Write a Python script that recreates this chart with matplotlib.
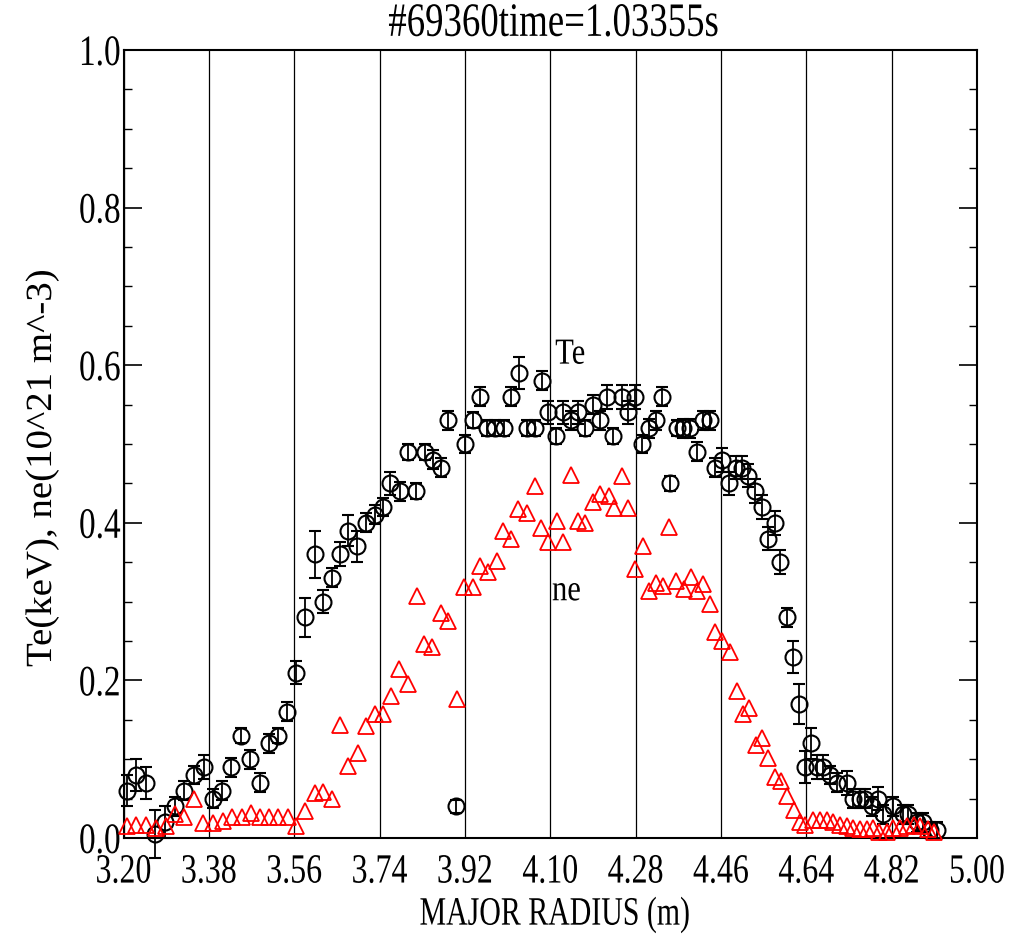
import matplotlib
matplotlib.use('Agg')
import matplotlib.pyplot as plt
from matplotlib.ticker import MultipleLocator
from matplotlib.patheffects import AbstractPathEffect
from matplotlib.transforms import Affine2D

plt.rcParams['font.family'] = ['Liberation Serif', 'DejaVu Serif']

# Te (keV) profile
te_r = [3.207, 3.226, 3.247, 3.266, 3.288, 3.309, 3.328, 3.349, 3.370, 3.389,
        3.408, 3.427, 3.448, 3.467, 3.488, 3.507, 3.526, 3.545, 3.564, 3.583,
        3.604, 3.621, 3.640, 3.657, 3.673, 3.692, 3.711, 3.730, 3.747, 3.762,
        3.783, 3.800, 3.817, 3.836, 3.853, 3.870, 3.884, 3.901, 3.920, 3.937,
        3.952, 3.967, 3.983, 4.002, 4.017, 4.034, 4.051, 4.068, 4.083, 4.096,
        4.112, 4.127, 4.144, 4.159, 4.173, 4.190, 4.205, 4.220, 4.233, 4.251,
        4.264, 4.279, 4.294, 4.309, 4.323, 4.336, 4.353, 4.368, 4.380, 4.395,
        4.410, 4.423, 4.437, 4.448, 4.462, 4.477, 4.492, 4.504, 4.517, 4.532,
        4.547, 4.560, 4.573, 4.584, 4.599, 4.612, 4.625, 4.637, 4.650, 4.663,
        4.675, 4.690, 4.705, 4.726, 4.738, 4.753, 4.763, 4.778, 4.791, 4.801,
        4.823, 4.844, 4.854, 4.873, 4.886, 4.901, 4.915]
te_val = [0.06, 0.08, 0.07, 0.005, 0.02, 0.04, 0.06, 0.08, 0.09, 0.05,
          0.06, 0.09, 0.13, 0.10, 0.07, 0.12, 0.13, 0.16, 0.21, 0.28,
          0.36, 0.30, 0.33, 0.36, 0.39, 0.37, 0.40, 0.41, 0.42, 0.45,
          0.44, 0.49, 0.44, 0.49, 0.48, 0.47, 0.53, 0.04, 0.50, 0.53,
          0.56, 0.52, 0.52, 0.52, 0.56, 0.59, 0.52, 0.52, 0.58, 0.54,
          0.51, 0.54, 0.53, 0.54, 0.52, 0.55, 0.53, 0.56, 0.51, 0.56,
          0.54, 0.56, 0.50, 0.52, 0.53, 0.56, 0.45, 0.52, 0.52, 0.52,
          0.49, 0.53, 0.53, 0.47, 0.48, 0.45, 0.47, 0.47, 0.46, 0.44,
          0.42, 0.38, 0.40, 0.35, 0.28, 0.23, 0.17, 0.09, 0.12, 0.09,
          0.09, 0.08, 0.07, 0.07, 0.05, 0.05, 0.05, 0.04, 0.05, 0.03,
          0.04, 0.03, 0.03, 0.02, 0.02, 0.01, 0.01]
te_err = [0.02, 0.02, 0.02, 0.03, 0.02, 0.012, 0.012, 0.012, 0.015, 0.012,
          0.012, 0.012, 0.01, 0.012, 0.012, 0.012, 0.01, 0.012, 0.015, 0.025,
          0.03, 0.015, 0.012, 0.015, 0.02, 0.02, 0.012, 0.012, 0.012, 0.015,
          0.012, 0.01, 0.01, 0.01, 0.012, 0.012, 0.012, 0.008, 0.012, 0.01,
          0.012, 0.01, 0.01, 0.01, 0.012, 0.02, 0.01, 0.01, 0.012, 0.015,
          0.01, 0.015, 0.012, 0.015, 0.01, 0.012, 0.012, 0.015, 0.01, 0.015,
          0.015, 0.015, 0.012, 0.012, 0.012, 0.012, 0.01, 0.01, 0.012, 0.012,
          0.012, 0.012, 0.012, 0.012, 0.015, 0.015, 0.015, 0.015, 0.015, 0.015,
          0.015, 0.015, 0.015, 0.015, 0.012, 0.02, 0.025, 0.02, 0.02, 0.015,
          0.015, 0.012, 0.012, 0.015, 0.012, 0.012, 0.012, 0.012, 0.015, 0.012,
          0.012, 0.012, 0.012, 0.012, 0.012, 0.01, 0.01]

# ne (10^21 m^-3) profile
ne_r = [3.207, 3.226, 3.247, 3.268, 3.290, 3.309, 3.328, 3.349, 3.368, 3.389,
        3.410, 3.429, 3.450, 3.469, 3.488, 3.507, 3.526, 3.547, 3.564, 3.583,
        3.604, 3.621, 3.640, 3.657, 3.673, 3.695, 3.711, 3.730, 3.747, 3.764,
        3.781, 3.800, 3.819, 3.834, 3.851, 3.870, 3.884, 3.903, 3.918, 3.937,
        3.952, 3.969, 3.988, 4.001, 4.017, 4.032, 4.051, 4.067, 4.081, 4.096,
        4.115, 4.127, 4.144, 4.159, 4.173, 4.190, 4.205, 4.223, 4.235, 4.251,
        4.264, 4.279, 4.296, 4.309, 4.322, 4.338, 4.351, 4.366, 4.381, 4.396,
        4.410, 4.423, 4.436, 4.448, 4.462, 4.480, 4.494, 4.507, 4.520, 4.534,
        4.547, 4.560, 4.573, 4.587, 4.600, 4.613, 4.627, 4.637, 4.654, 4.669,
        4.684, 4.696, 4.711, 4.726, 4.738, 4.753, 4.768, 4.781, 4.794, 4.810,
        4.823, 4.838, 4.853, 4.868, 4.880, 4.897, 4.909]
ne_val = [0.015, 0.017, 0.017, 0.013, 0.015, 0.030, 0.027, 0.050, 0.019, 0.019,
          0.021, 0.027, 0.027, 0.032, 0.027, 0.027, 0.027, 0.027, 0.015, 0.034,
          0.057, 0.059, 0.050, 0.144, 0.091, 0.108, 0.142, 0.157, 0.157, 0.180,
          0.214, 0.195, 0.307, 0.246, 0.243, 0.286, 0.275, 0.177, 0.318, 0.318,
          0.345, 0.337, 0.351, 0.389, 0.379, 0.417, 0.413, 0.447, 0.394, 0.375,
          0.402, 0.375, 0.461, 0.402, 0.400, 0.426, 0.436, 0.434, 0.419, 0.459,
          0.419, 0.341, 0.370, 0.313, 0.324, 0.320, 0.395, 0.326, 0.316, 0.331,
          0.313, 0.322, 0.297, 0.262, 0.250, 0.236, 0.186, 0.157, 0.165, 0.118,
          0.127, 0.102, 0.077, 0.072, 0.053, 0.035, 0.020, 0.017, 0.023, 0.023,
          0.023, 0.020, 0.017, 0.015, 0.013, 0.011, 0.011, 0.013, 0.008, 0.008,
          0.013, 0.013, 0.015, 0.017, 0.015, 0.011, 0.008]

x_ticks = [3.20, 3.38, 3.56, 3.74, 3.92, 4.10, 4.28, 4.46, 4.64, 4.82, 5.00]
y_ticks = [0.0, 0.2, 0.4, 0.6, 0.8, 1.0]


class Tall(AbstractPathEffect):
    # stretch glyphs along the text's own vertical about their centre (narrow Times look)
    def __init__(self, sy=1.3, vertical=False):
        super().__init__()
        self.sy = sy
        self.vertical = vertical

    def draw_path(self, renderer, gc, tpath, affine, rgbFace=None):
        v = affine.transform(tpath.vertices)
        if self.vertical:
            cx = (v[:, 0].min() + v[:, 0].max()) / 2
            st = Affine2D().translate(-cx, 0).scale(self.sy, 1).translate(cx, 0)
        else:
            cy = (v[:, 1].min() + v[:, 1].max()) / 2
            st = Affine2D().translate(0, -cy).scale(1, self.sy).translate(0, cy)
        renderer.draw_path(gc, tpath, affine + st, rgbFace)


tall = [Tall(1.3)]

fig = plt.figure(figsize=(10.25, 9.36), dpi=100)
ax = fig.add_axes([0.1205, 0.1047, 0.8327, 0.8419])

ax.errorbar(te_r, te_val, yerr=te_err, fmt='o', ms=11.5, mfc='none', mec='black',
            mew=1.5, ecolor='black', elinewidth=1.3, capsize=4, capthick=1.3,
            clip_on=False, zorder=3)
ax.plot(ne_r, ne_val, '^', ms=11.5, mfc='none', mec='red', mew=1.3,
        clip_on=False, zorder=4)

ax.text(4.142, 0.614, 'Te', fontsize=22, ha='center', va='center',
        path_effects=[Tall(1.2)])
ax.text(4.134, 0.313, 'ne', fontsize=22, ha='center', va='center',
        path_effects=[Tall(1.2)])

ax.set_xlim(3.20, 5.00)
ax.set_ylim(0.0, 1.0)
ax.set_xticks(x_ticks)
ax.set_xticklabels(['%.2f' % t for t in x_ticks])
ax.set_yticks(y_ticks)
ax.set_yticklabels(['%.1f' % v for v in y_ticks])
ax.yaxis.set_minor_locator(MultipleLocator(0.05))

ax.grid(axis='x', color='black', lw=0.9)
ax.tick_params(axis='x', length=0, pad=14, labelsize=23)
ax.tick_params(axis='y', which='major', direction='in', length=13, width=1.2,
               left=True, right=True, labelsize=24, pad=2)
ax.tick_params(axis='y', which='minor', direction='in', length=6, width=1.0,
               left=True, right=True)
for lab in ax.get_xticklabels() + ax.get_yticklabels():
    lab.set_path_effects(tall)
for s in ax.spines.values():
    s.set_linewidth(1.5)

fig.text(553 / 1025, 1 - 23 / 936, '#69360time=1.03355s', fontsize=26.5,
         ha='center', va='center', path_effects=tall)
fig.text(555 / 1025, 1 - 915 / 936, 'MAJOR RADIUS (m)', fontsize=21.5,
         ha='center', va='center', path_effects=[Tall(1.35)])
fig.text(42 / 1025, 1 - 468 / 936, 'Te(keV), ne(10^21 m^-3)', fontsize=28,
         ha='center', va='center', rotation=90,
         path_effects=[Tall(0.95, vertical=True)])

fig.savefig('out.png', dpi=100)
